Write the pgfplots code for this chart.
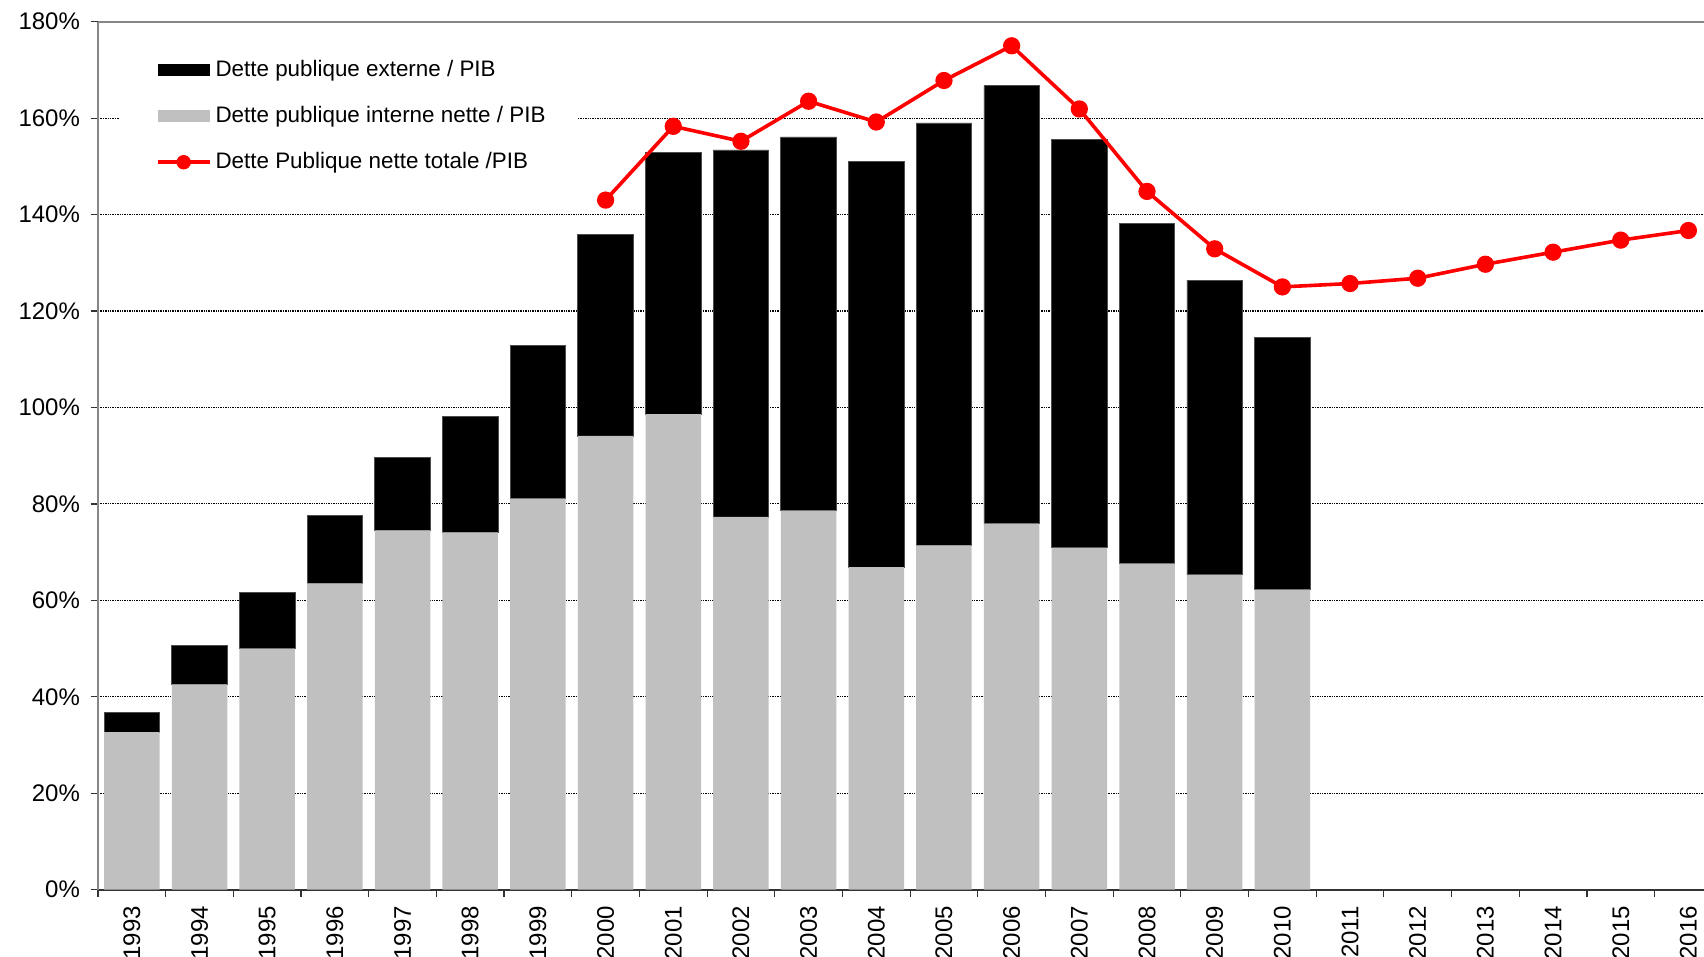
\documentclass[border=0pt]{standalone}
\usepackage{pgfplots}
\usepackage{pgfplotstable}
\pgfplotsset{compat=1.18}
\usepackage{fontspec}
\setmainfont{Liberation Sans}

\definecolor{barGray}{RGB}{192,192,192}
\definecolor{axGray}{RGB}{134,134,134}

\pgfplotstableread{
x  int  ext
0  32.7  4.0
1  42.6  8.1
2  50.0 11.7
3  63.5 14.2
4  74.5 15.1
5  74.1 24.1
6  81.1 31.7
7  94.1 41.7
8  98.6 54.3
9  77.3 76.1
10 78.6 77.5
11 66.9 84.2
12 71.4 87.6
13 75.9 90.8
14 70.9 84.7
15 67.6 70.5
16 65.3 61.1
17 62.2 52.4
}\bars

\pgfplotstableread{
x  tot
7  143.0
8  158.3
9  155.2
10 163.5
11 159.2
12 167.8
13 175.0
14 161.9
15 144.8
16 132.9
17 125.0
18 125.7
19 126.8
20 129.7
21 132.2
22 134.7
23 136.7
}\total

\pgfplotsset{base/.style={
  scale only axis, width=803pt, height=434pt,
  xmin=-0.5, xmax=23.23, ymin=0, ymax=180}}

\begin{document}
\begin{tikzpicture}
\begin{axis}[base, name=ax,
  axis x line*=bottom, axis y line*=left,
  ytick={0,20,...,180},
  yticklabel={\pgfmathprintnumber{\tick}\%},
  /pgf/number format/assume math mode=true,
  ymajorgrids,
  grid style={black, line width=0.55pt, dash pattern=on 0.7pt off 0.5pt},
  xtick={-0.5,0.5,...,22.5}, xticklabels={},
  extra x ticks={0,...,23},
  extra x tick labels={1993,1994,1995,1996,1997,1998,1999,2000,2001,2002,2003,2004,2005,2006,2007,2008,2009,2010,2011,2012,2013,2014,2015,2016},
  extra x tick style={major tick length=0pt, grid=none,
     tick label style={rotate=90, anchor=east, inner xsep=8pt}},
  tick align=outside, major tick length=3.5pt,
  tick label style={font=\fontsize{12}{14}\selectfont},
  yticklabel style={xshift=-2pt},
  y axis line style={axGray, line width=1.1pt},
  x axis line style={black!80, line width=1.1pt},
  tick style={black!80, line width=0.6pt},
  ybar stacked, bar width=0.82,
]
\addplot[fill=barGray, draw=none] table[x=x, y=int] {\bars};
\addplot[fill=black, draw=black!70, line width=0.4pt] table[x=x, y=ext] {\bars};
\draw[axGray, line width=1.1pt] (rel axis cs:0,1) -- (rel axis cs:1,1);
\end{axis}
\begin{axis}[base, hide axis,
  legend cell align=left,
  legend style={at={(rel axis cs:0.0134,0.981)}, anchor=north west,
    draw=none, fill=white, inner xsep=16pt, inner ysep=9pt,
    row sep=9.4pt, nodes={inner xsep=0pt},
    font=\fontsize{11.2}{13}\selectfont},
]
\addlegendimage{legend image code/.code={\draw[black, line width=5.8pt] (0pt,0pt) -- (26pt,0pt);}}
\addlegendentry{Dette publique externe / PIB}
\addlegendimage{legend image code/.code={\draw[barGray, line width=5.8pt] (0pt,0pt) -- (26pt,0pt);}}
\addlegendentry{Dette publique interne nette / PIB}
\addlegendimage{legend image code/.code={\draw[red, line width=1.8pt] (0pt,0pt) -- (26pt,0pt); \fill[red] (13pt,0pt) circle (3.4pt);}}
\addlegendentry{Dette Publique nette totale /PIB}
\addplot[red, line width=1.8pt, mark=*, mark size=3.4pt, mark options={fill=red, draw=red, solid}, forget plot] table[x=x, y=tot] {\total};
\end{axis}
\pgfresetboundingbox
\useasboundingbox ([xshift=-49pt,yshift=-33.5pt]ax.south west) rectangle ([yshift=10.85pt]ax.north east);
\end{tikzpicture}
\end{document}
